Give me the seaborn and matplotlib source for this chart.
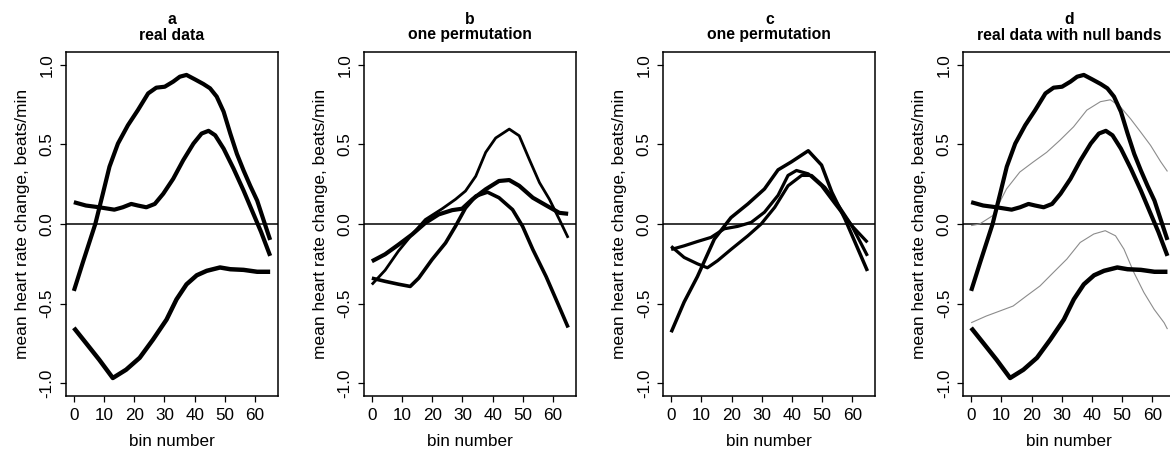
import matplotlib
matplotlib.use("Agg")
import matplotlib.pyplot as plt
import seaborn as sns
import pandas as pd

# ---------------- data ----------------
titles = ["a\nreal data", "b\none permutation", "c\none permutation", "d\nreal data with null bands"]
x_ticks = [0, 10, 20, 30, 40, 50, 60]
y_ticks = [-1.0, -0.5, 0.0, 0.5, 1.0]

real_top_x = [0, 3, 7.1, 9.6, 11.8, 14.6, 17.9, 21.2, 24.6, 27.3, 30.1, 32.9, 35.1, 37.3, 40.1, 42.9,
              45.1, 47.3, 49.6, 51.8, 54, 56.2, 58.4, 60.7, 62.9, 65]
real_top_y = [-0.42, -0.24, 0.0, 0.19, 0.36, 0.505, 0.62, 0.715, 0.82, 0.856, 0.862, 0.894, 0.925, 0.936,
              0.908, 0.879, 0.852, 0.80, 0.705, 0.568, 0.44, 0.336, 0.24, 0.147, 0.02, -0.10]

real_mid_x = [0, 4, 8.4, 13.4, 16.2, 19, 21.2, 24, 26.8, 29.6, 32.9, 36.2, 39.6, 42.3, 44.6, 46.8,
              49.6, 52.9, 56.2, 59, 62, 65]
real_mid_y = [0.137, 0.116, 0.105, 0.09, 0.105, 0.126, 0.116, 0.105, 0.126, 0.19, 0.284, 0.40, 0.505,
              0.568, 0.585, 0.557, 0.473, 0.347, 0.21, 0.084, -0.05, -0.20]

real_bot_x = [0, 4, 8.4, 12.9, 17.3, 21.8, 26.2, 30.7, 34, 37.3, 40.7, 44, 48.4, 51.8, 56.2, 60.7, 65]
real_bot_y = [-0.652, -0.747, -0.852, -0.967, -0.915, -0.84, -0.726, -0.60, -0.473, -0.379, -0.322,
              -0.294, -0.273, -0.284, -0.288, -0.30, -0.30]

b1_x = [0, 4.4, 8.8, 13.3, 17.7, 23.3, 27.7, 31, 34.4, 37.7, 41, 45.5, 48.8, 52.1, 55.5, 58.8, 62.1, 65]
b1_y = [-0.38, -0.29, -0.17, -0.066, 0.028, 0.096, 0.155, 0.207, 0.30, 0.45, 0.54, 0.596, 0.554, 0.407,
        0.26, 0.155, 0.028, -0.087]

b2_x = [0, 4.4, 8.8, 13.3, 17.7, 22.1, 26.6, 29.9, 33.3, 37.7, 42.1, 45.5, 48.8, 53.3, 57.7, 62.1, 65]
b2_y = [-0.234, -0.19, -0.13, -0.066, 0.007, 0.06, 0.087, 0.096, 0.155, 0.218, 0.27, 0.276, 0.24, 0.165,
        0.117, 0.07, 0.064]

b3_x = [0, 4.4, 8.8, 12.7, 15.5, 19.9, 24.4, 27.7, 31, 34.4, 38.3, 42.1, 46.6, 49.9, 53.3, 57.7, 61.6, 65]
b3_y = [-0.34, -0.36, -0.378, -0.392, -0.34, -0.224, -0.119, -0.014, 0.10, 0.175, 0.20, 0.165, 0.09,
        -0.014, -0.16, -0.33, -0.50, -0.65]

c1_x = [0, 4.3, 8.7, 14.3, 19.8, 25.4, 30.9, 35.4, 39.8, 45.4, 49.8, 53.2, 57.6, 65]
c1_y = [-0.68, -0.49, -0.33, -0.095, 0.04, 0.126, 0.22, 0.34, 0.39, 0.46, 0.37, 0.20, 0.03, -0.295]

c2_x = [0, 4.3, 8.7, 12.0, 15.4, 19.8, 25.4, 29.8, 34.3, 38.7, 43.2, 46.5, 50.9, 55.4, 59.8, 65]
c2_y = [-0.14, -0.21, -0.25, -0.275, -0.23, -0.16, -0.074, 0.0, 0.105, 0.24, 0.305, 0.305, 0.23, 0.116,
        -0.01, -0.20]

c3_x = [0, 4.3, 8.7, 13.2, 17.6, 22, 26.5, 30.9, 35.4, 38.7, 41.5, 45.4, 49.8, 54.3, 59.8, 65]
c3_y = [-0.16, -0.137, -0.11, -0.084, -0.03, -0.015, 0.01, 0.074, 0.18, 0.305, 0.336, 0.315, 0.24,
        0.126, -0.01, -0.115]

null_up_x = [0, 2.8, 7.2, 11.7, 16.1, 20.6, 25, 29.4, 33.9, 38.3, 42.8, 46.1, 49.4, 52.8, 56.1, 59.4, 62.8, 65]
null_up_y = [-0.01, 0.0, 0.053, 0.22, 0.326, 0.39, 0.45, 0.526, 0.61, 0.715, 0.768, 0.78, 0.736, 0.66,
             0.578, 0.494, 0.39, 0.33]

null_lo_x = [0, 5, 9.4, 13.9, 18.3, 22.8, 27.2, 31.7, 36.1, 40.6, 44.4, 47.8, 50.6, 53.9, 57.2, 60.6, 63.9, 65]
null_lo_y = [-0.62, -0.578, -0.547, -0.515, -0.452, -0.389, -0.305, -0.22, -0.116, -0.063, -0.042,
             -0.074, -0.158, -0.305, -0.43, -0.536, -0.62, -0.66]

# ---------------- styling ----------------
sns.set_style("ticks")
plt.rcParams['font.family'] = ['Liberation Sans', 'DejaVu Sans']
plt.rcParams['axes.unicode_minus'] = False
plt.rcParams['text.color'] = 'black'
plt.rcParams['axes.labelcolor'] = 'black'
plt.rcParams['xtick.color'] = 'black'
plt.rcParams['ytick.color'] = 'black'

fig = plt.figure(figsize=(11.7, 4.55), dpi=100)
lefts = [66, 364, 663.3, 963.3]
W, H = 1170.0, 455.0
axes = [fig.add_axes([l / W, 1 - 396 / H, 212 / W, 344 / H]) for l in lefts]

def curve(ax, xs, ys, lw, color="black"):
    df = pd.DataFrame({"x": xs, "y": ys})
    sns.lineplot(data=df, x="x", y="y", ax=ax, color=color, lw=lw,
                 solid_capstyle="butt", solid_joinstyle="round")

panels = [
    [(real_top_x, real_top_y, 3.0), (real_mid_x, real_mid_y, 3.0), (real_bot_x, real_bot_y, 3.2)],
    [(b1_x, b1_y, 2.0), (b2_x, b2_y, 3.0), (b3_x, b3_y, 2.6)],
    [(c1_x, c1_y, 2.5), (c2_x, c2_y, 2.3), (c3_x, c3_y, 2.3)],
    [(real_top_x, real_top_y, 3.0), (real_mid_x, real_mid_y, 3.0), (real_bot_x, real_bot_y, 3.2)],
]

for i, ax in enumerate(axes):
    ax.axhline(0, color="black", lw=1.1, zorder=1)
    if i == 3:
        curve(ax, null_up_x, null_up_y, 0.8, color="#8c8c8c")
        curve(ax, null_lo_x, null_lo_y, 0.8, color="#8c8c8c")
    for xs, ys, lw in panels[i]:
        curve(ax, xs, ys, lw)
    ax.set_xlim(-2.6, 67.6)
    ax.set_ylim(-1.08, 1.08)
    ax.set_xticks(x_ticks)
    ax.set_yticks(y_ticks)
    ax.set_yticklabels([f"{v:.1f}" for v in y_ticks])
    ax.tick_params(axis="both", direction="out", length=4.3, width=0.9,
                   labelsize=12.3, color="black", labelcolor="black")
    ax.tick_params(axis="x", pad=4.5)
    ax.tick_params(axis="y", pad=4, labelrotation=90)
    for lbl in ax.get_yticklabels():
        lbl.set_va("center")
    for s in ax.spines.values():
        s.set_visible(True)
        s.set_linewidth(1.1)
        s.set_color("black")
    ax.set_xlabel("bin number", fontsize=12.3, labelpad=8, color="black")
    ax.set_ylabel("mean heart rate change, beats/min", fontsize=12.5, labelpad=7, color="black")
    ax.set_title(titles[i], fontsize=11.3, fontweight="bold", linespacing=1.0, pad=9, color="black")

fig.savefig("out.png", dpi=100)
